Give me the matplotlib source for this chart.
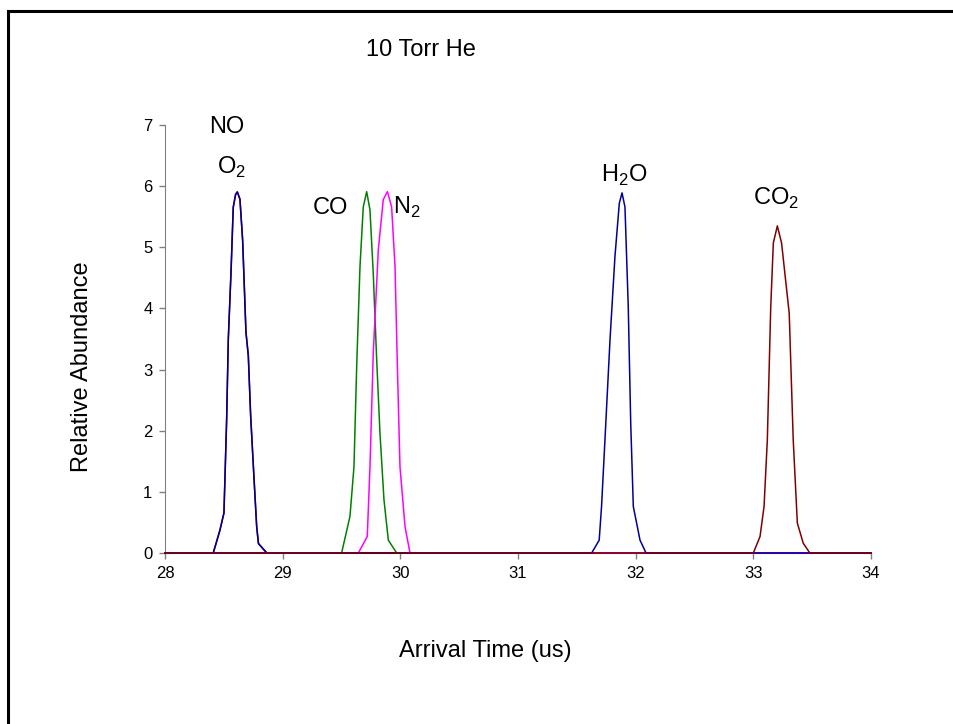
import matplotlib
matplotlib.use('Agg')
import matplotlib.pyplot as plt
from matplotlib.lines import Line2D

plt.rcParams['font.family'] = ['Liberation Sans', 'DejaVu Sans']
plt.rcParams['mathtext.fontset'] = 'custom'
plt.rcParams['mathtext.rm'] = 'Liberation Sans'

# peak traces (arrival time in us, relative abundance)
no_x = [28.41, 28.467, 28.501, 28.524, 28.538, 28.561, 28.58, 28.60, 28.614,
        28.637, 28.66, 28.688, 28.708, 28.728, 28.756, 28.779, 28.793, 28.864]
no_y = [0, 0.38, 0.65, 2.18, 3.49, 4.58, 5.66, 5.87, 5.91,
        5.78, 5.12, 3.60, 3.24, 2.23, 1.25, 0.43, 0.16, 0]

o2_x = [28.41, 28.467, 28.501, 28.524, 28.538, 28.561, 28.58, 28.60, 28.616,
        28.637, 28.66, 28.688, 28.708, 28.728, 28.756, 28.779, 28.795, 28.866]
o2_y = [0, 0.37, 0.66, 2.20, 3.50, 4.60, 5.65, 5.86, 5.90,
        5.79, 5.10, 3.62, 3.22, 2.25, 1.23, 0.44, 0.15, 0]

co_x = [29.501, 29.572, 29.606, 29.629, 29.657, 29.685, 29.714, 29.742,
        29.770, 29.799, 29.827, 29.861, 29.898, 29.969]
co_y = [0, 0.60, 1.41, 3.05, 4.68, 5.66, 5.91, 5.61,
        4.57, 3.16, 1.96, 0.87, 0.21, 0]

n2_x = [29.643, 29.719, 29.742, 29.770, 29.813, 29.855, 29.890, 29.926,
        29.955, 29.975, 29.997, 30.040, 30.082]
n2_y = [0, 0.27, 1.41, 3.27, 4.96, 5.78, 5.91, 5.66,
        4.68, 3.05, 1.41, 0.43, 0]

h2o_x = [31.626, 31.690, 31.710, 31.739, 31.782, 31.824, 31.861, 31.884,
         31.909, 31.937, 31.958, 31.980, 32.037, 32.088]
h2o_y = [0, 0.21, 0.76, 1.85, 3.49, 4.85, 5.72, 5.89,
         5.66, 4.03, 2.12, 0.76, 0.21, 0]

co2_x = [33.0, 33.057, 33.091, 33.119, 33.148, 33.170, 33.204, 33.240,
         33.305, 33.339, 33.374, 33.424, 33.480]
co2_y = [0, 0.27, 0.76, 1.85, 4.03, 5.07, 5.35, 5.07,
         3.92, 1.85, 0.49, 0.16, 0]

x_start, x_end = 28, 34

series = [
    (no_x, no_y, '#800080'),
    (o2_x, o2_y, '#000080'),
    (co_x, co_y, '#008000'),
    (n2_x, n2_y, '#FF00FF'),
    (h2o_x, h2o_y, '#000099'),
    (co2_x, co2_y, '#800000'),
]

fig = plt.figure(figsize=(9.54, 7.24), dpi=100)
ax = fig.add_axes([165 / 954, 1 - 553 / 724, 706 / 954, 428 / 724])

for xs, ys, color in series:
    ax.plot([x_start] + xs + [x_end], [0] + ys + [0], color=color, lw=1.1,
            clip_on=False, zorder=3)

ax.set_xlim(28, 34)
ax.set_ylim(0, 7)
ax.set_xticks(range(28, 35))
ax.set_yticks(range(0, 8))

ax.spines['top'].set_visible(False)
ax.spines['right'].set_visible(False)
ax.spines['left'].set_color('#808080')
ax.spines['bottom'].set_color('#808080')
ax.tick_params(direction='out', length=4, width=1, color='#808080',
               labelsize=12, pad=5)

# species labels
label_size = 17
ax.text(28.374, 6.87, 'NO', fontsize=label_size, va='baseline')
ax.text(28.446, 6.20, r'O$_\mathregular{2}$', fontsize=label_size, va='baseline')
ax.text(29.258, 5.545, 'CO', fontsize=label_size, va='baseline')
ax.text(29.938, 5.545, r'N$_\mathregular{2}$', fontsize=label_size, va='baseline')
ax.text(31.705, 6.07, r'H$_\mathregular{2}$O', fontsize=label_size, va='baseline')
ax.text(33.0, 5.69, r'CO$_\mathregular{2}$', fontsize=label_size, va='baseline')

fig.text(366 / 954, 1 - 56 / 724, '10 Torr He', fontsize=17, va='baseline')
fig.text(485.5 / 954, 1 - 657 / 724, 'Arrival Time (us)', fontsize=17,
         ha='center', va='baseline')
fig.text(82.5 / 954, 1 - 366.5 / 724, 'Relative Abundance', fontsize=17,
         rotation=90, ha='center', va='center')

# chart frame (left and top edges visible)
fig.add_artist(Line2D([8.5 / 954, 8.5 / 954], [0, 1 - 10.5 / 724],
                      color='black', lw=2.2))
fig.add_artist(Line2D([8.5 / 954, 1], [1 - 10.5 / 724, 1 - 10.5 / 724],
                      color='black', lw=2.2))

fig.savefig('out.png', dpi=100)
